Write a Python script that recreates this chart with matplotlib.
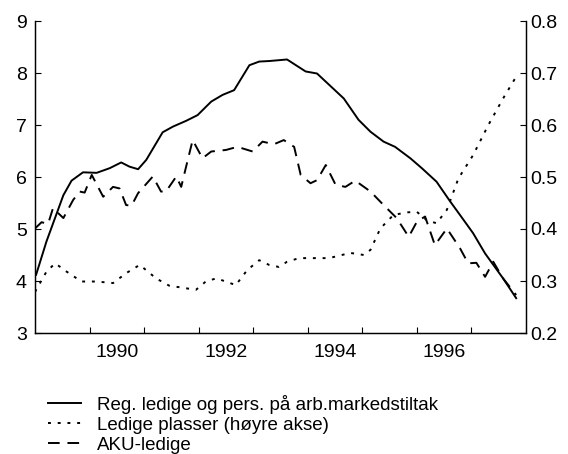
import matplotlib
matplotlib.use("Agg")
import matplotlib.pyplot as plt
from matplotlib.lines import Line2D

plt.rcParams['font.family'] = ['Liberation Sans', 'DejaVu Sans']

# Reg. ledige og pers. på arb.markedstiltak (left axis, percent)
reg_x = [1989.02, 1989.21, 1989.52, 1989.67, 1989.88, 1990.13, 1990.37, 1990.58, 1990.73,
         1990.89, 1991.04, 1991.34, 1991.53, 1991.77, 1991.98, 1992.23, 1992.44, 1992.65,
         1992.93, 1993.11, 1993.29, 1993.62, 1993.96, 1994.17, 1994.66, 1994.93, 1995.15,
         1995.39, 1995.60, 1995.88, 1996.09, 1996.36, 1996.61, 1996.79, 1997.03, 1997.25,
         1997.58, 1997.82]
reg_y = [4.12, 4.76, 5.65, 5.93, 6.09, 6.08, 6.17, 6.28, 6.20,
         6.15, 6.33, 6.86, 6.97, 7.08, 7.19, 7.45, 7.58, 7.67,
         8.15, 8.22, 8.23, 8.26, 8.03, 7.99, 7.51, 7.10, 6.87,
         6.68, 6.58, 6.36, 6.17, 5.91, 5.53, 5.27, 4.92, 4.53,
         4.05, 3.67]

# AKU-ledige (left axis, percent)
aku_x = [1989.00, 1989.12, 1989.24, 1989.33, 1989.52, 1989.70, 1989.82, 1989.91, 1990.04,
         1990.25, 1990.43, 1990.55, 1990.67, 1990.77, 1990.89, 1991.16, 1991.31, 1991.40,
         1991.59, 1991.68, 1991.77, 1991.89, 1992.07, 1992.23, 1992.50, 1992.71, 1992.99,
         1993.17, 1993.38, 1993.56, 1993.75, 1993.87, 1994.05, 1994.17, 1994.33, 1994.51,
         1994.69, 1994.87, 1995.15, 1995.39, 1995.63, 1995.85, 1996.00, 1996.15, 1996.33,
         1996.55, 1996.79, 1996.94, 1997.09, 1997.25, 1997.40, 1997.58, 1997.82]
aku_y = [5.01, 5.13, 5.10, 5.40, 5.21, 5.56, 5.72, 5.70, 6.04,
         5.62, 5.81, 5.78, 5.46, 5.45, 5.69, 6.01, 5.72, 5.72,
         6.01, 5.81, 6.20, 6.71, 6.36, 6.49, 6.52, 6.58, 6.49,
         6.68, 6.63, 6.71, 6.58, 6.04, 5.88, 5.94, 6.23, 5.85,
         5.81, 5.93, 5.72, 5.46, 5.21, 4.85, 5.14, 5.24, 4.69,
         5.01, 4.63, 4.34, 4.35, 4.08, 4.37, 4.05, 3.73]

# Ledige plasser (right axis)
lp_x = [1989.00, 1989.21, 1989.37, 1989.58, 1989.85, 1990.13, 1990.43, 1990.67, 1990.92,
        1991.22, 1991.46, 1991.77, 1991.95, 1992.13, 1992.32, 1992.50, 1992.68, 1992.89,
        1993.11, 1993.29, 1993.47, 1993.62, 1993.84, 1994.39, 1994.78, 1995.03, 1995.15,
        1995.33, 1995.57, 1995.82, 1996.00, 1996.18, 1996.36, 1996.55, 1996.76, 1997.03,
        1997.31, 1997.58, 1997.82]
lp_y = [0.279, 0.318, 0.334, 0.318, 0.299, 0.299, 0.296, 0.315, 0.331,
        0.305, 0.291, 0.286, 0.283, 0.299, 0.305, 0.299, 0.292, 0.321,
        0.340, 0.331, 0.327, 0.337, 0.344, 0.344, 0.354, 0.350, 0.360,
        0.401, 0.427, 0.432, 0.433, 0.417, 0.411, 0.437, 0.497, 0.542,
        0.600, 0.651, 0.693]

year_ticks = [1990, 1991, 1992, 1993, 1994, 1995, 1996, 1997]
year_labels = ['1990', '1992', '1994', '1996']
label_pos = [1990.5, 1992.5, 1994.5, 1996.5]
left_ticks = [3, 4, 5, 6, 7, 8, 9]
right_ticks = [0.2, 0.3, 0.4, 0.5, 0.6, 0.7, 0.8]

labels = ['Reg. ledige og pers. på arb.markedstiltak',
          'Ledige plasser (høyre akse)',
          'AKU-ledige']

W, H = 568, 454
fig = plt.figure(figsize=(W/100, H/100), dpi=100)
ax = fig.add_axes([35/W, 1-333/H, (526-35)/W, (333-21)/H])
ax2 = ax.twinx()

lw = 1.4
solid_style = '-'
dot_style = (0, (1.5, 3.5))
dash_style = (0, (6, 4))

ax.plot(reg_x, reg_y, color='black', lw=lw, ls=solid_style)
ax.plot(aku_x, aku_y, color='black', lw=lw, ls=dash_style)
ax2.plot(lp_x, lp_y, color='black', lw=lw, ls=dot_style)

ax.set_xlim(1989.0, 1998.0)
ax.set_ylim(3, 9)
ax2.set_ylim(0.2, 0.8)

for a in (ax, ax2):
    a.spines['top'].set_visible(False)

ax.set_yticks(left_ticks)
ax.set_yticklabels([str(t) for t in left_ticks])
ax2.set_yticks(right_ticks)
ax2.set_yticklabels([f'{t:.1f}' for t in right_ticks])

ax.set_xticks(year_ticks)
ax.set_xticklabels([])
ax.set_xticks(label_pos, minor=True)
ax.set_xticklabels(year_labels, minor=True)

fs = 14
ax.tick_params(axis='y', direction='in', length=4, width=0.8, labelsize=fs, pad=6)
ax2.tick_params(axis='y', direction='in', length=4, width=0.8, labelsize=fs, pad=3)
ax.tick_params(axis='x', which='major', direction='in', length=4, width=0.8)
ax.tick_params(axis='x', which='minor', length=0, labelsize=fs, pad=8)

for a in (ax, ax2):
    for s in a.spines.values():
        s.set_linewidth(0.9)

# legend drawn in figure pixel coordinates
styles = [solid_style, dot_style, dash_style]
row_y = [403, 423, 443]
for st, lab, yy in zip(styles, labels, row_y):
    fig.add_artist(Line2D([48/W, 81/W], [1-yy/H, 1-yy/H], color='black', lw=lw, ls=st,
                          transform=fig.transFigure))
    fig.text(97/W, 1-yy/H, lab, fontsize=13.5, ha='left', va='center_baseline')

fig.savefig('out.png', dpi=100)
